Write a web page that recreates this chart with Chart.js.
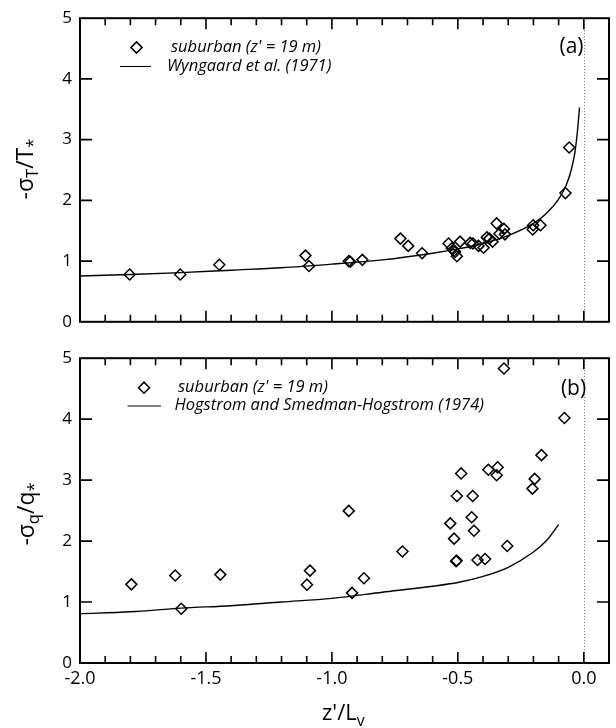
<!DOCTYPE html>
<html>
<head>
<meta charset="utf-8">
<script src="https://cdn.jsdelivr.net/npm/chart.js@4.4.1/dist/chart.umd.min.js"></script>
<style>
  body { margin: 0; background: #fff; }
  canvas { position: absolute; left: 0; }
  #top { top: 0; }
  #bot { top: 340px; }
</style>
</head>
<body>
<canvas id="top" width="616" height="340"></canvas>
<canvas id="bot" width="616" height="388"></canvas>
<script>
// panel (a): -sigma_T / T*, suburban data
const tempX = [-1.803, -1.602, -1.447, -1.105, -1.091, -0.933, -0.927, -0.879, -0.728, -0.697,
  -0.642, -0.537, -0.524, -0.515, -0.511, -0.504, -0.491, -0.451, -0.440, -0.418, -0.398,
  -0.385, -0.375, -0.362, -0.346, -0.335, -0.317, -0.313, -0.203, -0.201, -0.172, -0.073, -0.058];
const tempY = [0.78, 0.78, 0.94, 1.09, 0.92, 1.00, 0.99, 1.02, 1.37, 1.25,
  1.13, 1.29, 1.21, 1.17, 1.15, 1.08, 1.32, 1.30, 1.29, 1.25, 1.22,
  1.39, 1.37, 1.32, 1.62, 1.45, 1.53, 1.44, 1.52, 1.59, 1.59, 2.12, 2.87];
// Wyngaard et al. (1971) curve
const wyngX = [-2.0, -1.8, -1.6, -1.4, -1.2, -1.0, -0.8, -0.6, -0.5, -0.4, -0.3, -0.2, -0.15, -0.1, -0.07, -0.05, -0.035, -0.025, -0.017];
const wyngY = [0.755, 0.78, 0.81, 0.85, 0.89, 0.95, 1.02, 1.13, 1.20, 1.29, 1.42, 1.62, 1.78, 2.02, 2.25, 2.50, 2.80, 3.15, 3.53];

// panel (b): -sigma_q / q*
const humX = [-1.796, -1.622, -1.598, -1.443, -1.099, -1.087, -0.933, -0.920, -0.873, -0.720,
  -0.530, -0.515, -0.507, -0.505, -0.504, -0.487, -0.445, -0.441, -0.436, -0.422, -0.392,
  -0.379, -0.346, -0.342, -0.317, -0.304, -0.204, -0.195, -0.168, -0.077];
const humY = [1.29, 1.435, 0.89, 1.45, 1.285, 1.515, 2.495, 1.15, 1.39, 1.83,
  2.29, 2.04, 1.67, 1.68, 2.74, 3.11, 2.39, 2.74, 2.17, 1.69, 1.705,
  3.17, 3.08, 3.21, 4.83, 1.92, 2.86, 3.02, 3.41, 4.02];
// Hogstrom and Smedman-Hogstrom (1974) curve
const hogX = [-2.0, -1.8, -1.6, -1.4, -1.2, -1.0, -0.8, -0.6, -0.5, -0.4, -0.3, -0.2, -0.15, -0.1];
const hogY = [0.81, 0.84, 0.90, 0.94, 1.00, 1.06, 1.16, 1.26, 1.32, 1.42, 1.57, 1.82, 2.00, 2.27];

const xTicks = [-2.0, -1.5, -1.0, -0.5, 0.0];
const yTicks = [0, 1, 2, 3, 4, 5];

const FONT = "'Open Sans', sans-serif";

function pts(xs, ys) {
  return xs.map((x, i) => ({ x: x, y: ys[i] }));
}

// text made of parts, some subscripted; starts at x (left), centred on y
function richWidth(ctx, parts, size) {
  let w = 0;
  parts.forEach(p => {
    ctx.font = (p.sub ? size * 0.72 : size) + 'px ' + FONT;
    w += ctx.measureText(p.t).width;
  });
  return w;
}
function richText(ctx, parts, x, y, size) {
  ctx.textBaseline = 'middle';
  ctx.textAlign = 'left';
  parts.forEach(p => {
    const s = p.sub ? size * 0.72 : size;
    ctx.font = s + 'px ' + FONT;
    ctx.fillText(p.t, x, p.sub ? y + size * 0.32 : y);
    x += ctx.measureText(p.t).width;
  });
}

const framePlugin = {
  id: 'frame',
  afterDatasetsDraw(chart, args, o) {
    const ctx = chart.ctx, a = chart.chartArea;
    const xs = chart.scales.x, ys = chart.scales.y;
    ctx.save();
    // dotted line at zero
    ctx.strokeStyle = '#666';
    ctx.lineWidth = 1;
    ctx.setLineDash([1, 2]);
    const x0 = Math.round(xs.getPixelForValue(0)) + 0.5;
    ctx.beginPath();
    ctx.moveTo(x0, a.top);
    ctx.lineTo(x0, a.bottom);
    ctx.stroke();
    ctx.setLineDash([]);

    ctx.strokeStyle = '#000';
    ctx.lineWidth = 2;
    ctx.strokeRect(a.left, a.top, a.right - a.left, a.bottom - a.top);

    // inward ticks, minor every 0.1, major every 0.5
    ctx.lineWidth = 1.6;
    ctx.beginPath();
    for (let i = 1; i <= 21; i++) {
      const px = xs.getPixelForValue(-2 + i * 0.1);
      const len = i % 5 === 0 ? 11 : 7;
      ctx.moveTo(px, a.bottom); ctx.lineTo(px, a.bottom - len);
      ctx.moveTo(px, a.top); ctx.lineTo(px, a.top + len);
    }
    yTicks.slice(1, -1).forEach(v => {
      const py = ys.getPixelForValue(v);
      ctx.moveTo(a.left, py); ctx.lineTo(a.left + 12, py);
      ctx.moveTo(a.right, py); ctx.lineTo(a.right - 12, py);
    });
    ctx.stroke();

    // legend
    const L = o.legend;
    ctx.lineWidth = 1.6;
    ctx.beginPath();
    ctx.moveTo(L.dx - 5.5, L.dy); ctx.lineTo(L.dx, L.dy - 5.5);
    ctx.lineTo(L.dx + 5.5, L.dy); ctx.lineTo(L.dx, L.dy + 5.5);
    ctx.closePath();
    ctx.stroke();
    ctx.lineWidth = 1.1;
    ctx.beginPath();
    ctx.moveTo(L.l0, L.ly); ctx.lineTo(L.l1, L.ly);
    ctx.stroke();
    ctx.fillStyle = '#000';
    ctx.font = 'italic 16.5px ' + FONT;
    ctx.textBaseline = 'middle';
    ctx.textAlign = 'left';
    ctx.fillText(L.text1, L.t1x, L.t1y);
    ctx.fillText(L.text2, L.t2x, L.t2y);

    // panel label
    ctx.font = '21px ' + FONT;
    ctx.textAlign = 'center';
    ctx.fillText(o.panel, o.px, o.py);

    // y title, rotated
    ctx.save();
    ctx.translate(o.yt.x, o.yt.y);
    ctx.rotate(-Math.PI / 2);
    const w = richWidth(ctx, o.yt.parts, 23);
    richText(ctx, o.yt.parts, -w / 2, 0, 23);
    ctx.restore();

    if (o.xt) {
      richText(ctx, o.xt.parts, o.xt.x, o.xt.y, 22);
    }
    ctx.restore();
  }
};

function makeChart(id, scatterData, curveData, names, showX, padBottom, annot) {
  return new Chart(document.getElementById(id), {
    type: 'scatter',
    data: {
      datasets: [{
        label: names[0],
        data: scatterData,
        pointStyle: 'rectRot',
        radius: 5.5,
        borderWidth: 1.5,
        borderColor: '#000',
        backgroundColor: 'rgba(0,0,0,0)'
      }, {
        label: names[1],
        data: curveData,
        showLine: true,
        pointRadius: 0,
        borderWidth: 1.4,
        borderColor: '#000',
        cubicInterpolationMode: 'monotone'
      }]
    },
    options: {
      responsive: false,
      animation: false,
      devicePixelRatio: 1,
      layout: { padding: { left: 0, right: 4, top: 14, bottom: padBottom } },
      plugins: { legend: { display: false }, tooltip: { enabled: false }, frame: annot },
      scales: {
        x: {
          type: 'linear', min: -2.0, max: 0.1,
          grid: { display: false, drawTicks: false },
          border: { display: false },
          afterBuildTicks: s => { s.ticks = xTicks.map(v => ({ value: v })); },
          afterFit: s => { s.height = showX ? 65 : 0; },
          ticks: {
            display: showX,
            color: '#000',
            padding: 5,
            maxRotation: 0,
            font: { family: FONT, size: 18 },
            callback: v => v.toFixed(1)
          }
        },
        y: {
          min: 0, max: 5,
          grid: { display: false, drawTicks: false },
          border: { display: false },
          afterBuildTicks: s => { s.ticks = yTicks.map(v => ({ value: v })); },
          afterFit: s => { s.width = 80; },
          ticks: {
            color: '#000',
            padding: 8,
            font: { family: FONT, size: 17 }
          }
        }
      }
    },
    plugins: [framePlugin]
  });
}

makeChart('top', pts(tempX, tempY), pts(wyngX, wyngY),
  ['suburban (z\' = 19 m)', 'Wyngaard et al. (1971)'], false, 17, {
    legend: { dx: 136.5, dy: 47.5, l0: 120, l1: 151, ly: 66.5,
      text1: 'suburban (z\' = 19 m)', t1x: 171, t1y: 47,
      text2: 'Wyngaard et al. (1971)', t2x: 167, t2y: 66 },
    panel: '(a)', px: 571.5, py: 47,
    yt: { x: 26, y: 169, parts: [{ t: '-σ' }, { t: 'T', sub: true }, { t: '/T' }, { t: '*', sub: true }] }
  });

makeChart('bot', pts(humX, humY), pts(hogX, hogY),
  ['suburban (z\' = 19 m)', 'Hogstrom and Smedman-Hogstrom (1974)'], true, 0, {
    legend: { dx: 144, dy: 47.7, l0: 127.5, l1: 161, ly: 66,
      text1: 'suburban (z\' = 19 m)', t1x: 178, t1y: 47,
      text2: 'Hogstrom and Smedman-Hogstrom (1974)', t2x: 174.5, t2y: 65 },
    panel: '(b)', px: 573.5, py: 49,
    yt: { x: 27, y: 174, parts: [{ t: '-σ' }, { t: 'q', sub: true }, { t: '/q' }, { t: '*', sub: true }] },
    xt: { x: 322, y: 374, parts: [{ t: 'z\'/L' }, { t: 'v', sub: true }] }
  });
</script>
</body>
</html>
